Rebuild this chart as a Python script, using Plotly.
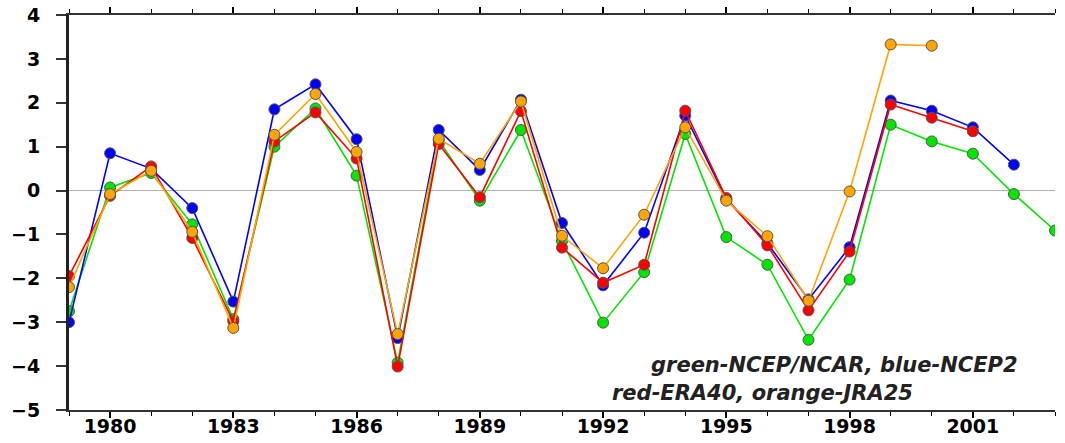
import plotly.graph_objects as go

years = list(range(1979, 2004))
green = [-2.75, 0.07, 0.40, -0.77, -2.93, 1.00, 1.87, 0.34, -3.92, 1.15, -0.23, 1.38, -1.15, -3.01,
         -1.86, 1.29, -1.06, -1.69, -3.40, -2.03, 1.50, 1.12, 0.84, -0.08, -0.91]
blue = [-3.00, 0.85, 0.50, -0.40, -2.53, 1.85, 2.42, 1.17, -3.36, 1.38, 0.47, 2.07, -0.74, -2.16,
        -0.96, 1.71, -0.20, -1.20, -2.48, -1.29, 2.05, 1.82, 1.44, 0.59, None]
red = [-1.95, -0.12, 0.55, -1.08, -2.98, 1.12, 1.78, 0.73, -4.01, 1.06, -0.15, 1.81, -1.30, -2.10,
       -1.69, 1.82, -0.17, -1.25, -2.73, -1.39, 1.96, 1.66, 1.35, None, None]
orange = [-2.20, -0.08, 0.45, -0.94, -3.13, 1.27, 2.20, 0.88, -3.27, 1.18, 0.61, 2.03, -1.03, -1.77,
          -0.55, 1.44, -0.23, -1.04, -2.51, -0.02, 3.33, 3.30, None, None, None]

series = [("NCEP/NCAR", green, "#00e600"), ("NCEP2", blue, "#0000ff"),
          ("ERA40", red, "#ff0000"), ("JRA25", orange, "#ffa500")]

fig = go.Figure()
for name, vals, col in series:
    fig.add_trace(go.Scatter(
        x=years, y=vals, name=name, mode="lines+markers",
        line=dict(color=col, width=1.6),
        marker=dict(color=col, size=11, line=dict(color="#555555", width=1)),
        connectgaps=False, showlegend=False))

tickfont = dict(family="DejaVu Sans", size=19, color="black", weight="bold")

fig.update_layout(
    width=1065, height=443,
    margin=dict(l=69, r=10, t=15, b=33),
    paper_bgcolor="white", plot_bgcolor="white",
    xaxis=dict(range=[1979, 2003], tick0=1980, dtick=3, ticks="outside", ticklen=6,
               tickwidth=1.5, tickcolor="black", showline=True, linewidth=2, linecolor="#333",
               mirror="ticks", showgrid=False, zeroline=False, tickfont=tickfont,
               ticklabelstandoff=-8, automargin=False,
               minor=dict(dtick=1, tick0=1979, ticks="outside", ticklen=4, tickcolor="black",
                          tickwidth=1.2, showgrid=False)),
    yaxis=dict(range=[-5, 4], dtick=1, ticks="outside", ticklen=10, tickwidth=1.5,
               tickcolor="#333", showline=True, linewidth=3, linecolor="#222",
               showgrid=False, zeroline=True, zerolinecolor="#b0b0b0", zerolinewidth=1,
               tickfont=tickfont, ticklabelstandoff=12, automargin=False),
    yaxis2=dict(range=[-5, 4], dtick=1, overlaying="y", side="right", ticks="inside",
                ticklen=8, tickwidth=1.5, tickcolor="#333", showline=True, linewidth=3,
                linecolor="#222", showgrid=False, zeroline=False, showticklabels=False,
                automargin=False),
)

annfont = dict(family="DejaVu Sans", size=21, color="#222")
fig.add_annotation(x=0.9645, y=0.114, xref="paper", yref="paper", xanchor="right",
                   yanchor="middle", showarrow=False, font=annfont,
                   text="<b><i>green-NCEP/NCAR, blue-NCEP2</i></b>")
fig.add_annotation(x=0.858, y=0.043, xref="paper", yref="paper", xanchor="right",
                   yanchor="middle", showarrow=False, font=annfont,
                   text="<b><i>red-ERA40, orange-JRA25</i></b>")

fig.write_html("out.html")
